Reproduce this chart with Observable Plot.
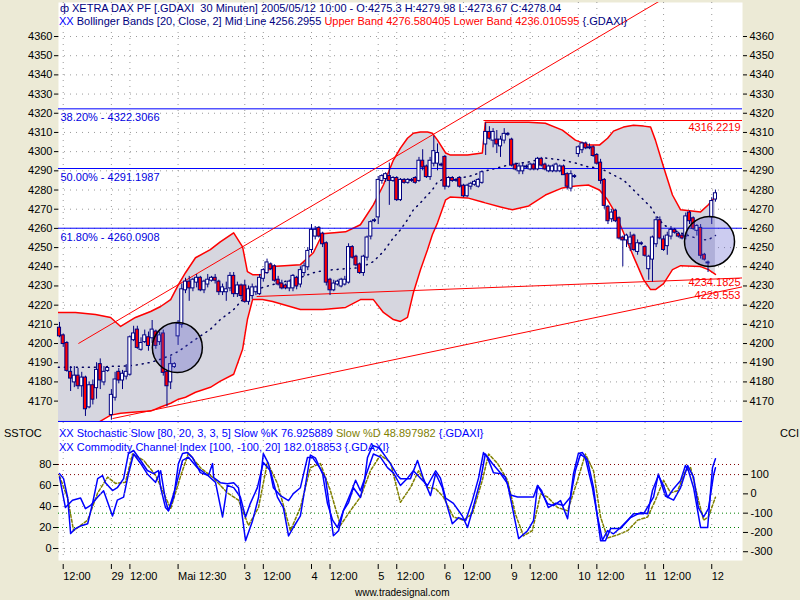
<!DOCTYPE html>
<html>
<head>
<meta charset="utf-8">
<script src="https://cdn.jsdelivr.net/npm/d3@7"></script>
<script src="https://cdn.jsdelivr.net/npm/@observablehq/plot@0.6"></script>
<style>
html,body{margin:0;padding:0;background:#ecead6;}
#wrap{position:relative;width:800px;height:600px;overflow:hidden;background:#ecead6;font-family:"Liberation Sans",Arial,sans-serif;font-size:11px;}
.layer{position:absolute;left:0;}
.t{position:absolute;white-space:pre;line-height:13px;font-size:11px;font-family:"Liberation Sans",Arial,sans-serif;}
</style>
</head>
<body>
<div id="wrap">
  <div id="price" class="layer" style="top:0"></div>
  <div id="stoch" class="layer" style="top:422px"></div>
  <div id="cci" class="layer" style="top:422px"></div>
  <div class="t" style="left:60px;top:2px;color:#000080">ф</div>
  <div class="t" style="left:72px;top:2px;color:#000080">XETRA DAX PF [.GDAXI  30 Minuten] 2005/05/12 10:00 - O:4275.3 H:4279.98 L:4273.67 C:4278.04</div>
  <div class="t" style="left:59px;top:15px"><span style="color:#0000ff">XX</span> <span style="color:#000080">Bollinger Bands [20, Close, 2] Mid Line 4256.2955 </span><span style="color:#ff0000">Upper Band 4276.580405 Lower Band 4236.010595 </span><span style="color:#000080">{.GDAXI}</span></div>
  <div class="t" style="left:59px;top:427px;color:#0000ff">XX Stochastic Slow [80, 20, 3, 3, 5] Slow %K 76.925889 <span style="color:#808000">Slow %D 48.897982</span> {.GDAXI}</div>
  <div class="t" style="left:59px;top:441px;color:#0000ff">XX Commodity Channel Index [100, -100, 20] 182.018853 {.GDAXI}</div>
  <div class="t" style="left:4px;top:427px;color:#000">SSTOC</div>
  <div class="t" style="left:780px;top:427px;color:#000">CCI</div>
  <div class="t" style="left:355px;top:586px;color:#000;font-size:10px">www.tradesignal.com</div>
</div>
<script>
// ---------- x axis (bar index) ----------
const tickIdx = [1,14,19,32,50,55,68,73,86,91,104,109,122,127,140,145,158,163,176];
const tickLabels = ["12:00","29","12:00","Mai 12:30","3","12:00","4","12:00","5","12:00","6","12:00","9","12:00","10","12:00","11","12:00","12"];

// ---------- candles (30 min) ----------
const opens = [
4208,4204,4200,4185,4180,4183,4178,4182,4167,4178,4177,4189,4180,4186,
4163,4172,4185,4181,4183,4184,4202,4207,4197,4201,4203,4203,4206,4201,4205,4185,4180,4188,
4204,4210,4228,4232,4229,4232,4234,4228,4231,4233,4234,4232,4227,4227,4229,4235,4226,4230,
4230,4222,4225,4227,4226,4234,4237,4241,4240,4233,4231,4230,4229,4229,4234,4231,4237,4240,
4249,4256,4260,4257,4252,4233,4228,4231,4230,4231,4232,4250,4245,4241,4237,4245,4256,4264,
4266,4285,4286,4287,4285,4286,4275,4285,4284,4285,4286,4285,4295,4292,4287,4294,4294,4293,
4297,4282,4286,4285,4286,4282,4277,4282,4283,4282,4284,4304,4310,4306,4306,4303,4306,4309,
4306,4293,4290,4290,4292,4291,4293,4291,4296,4293,4290,4290,4290,4290,4292,4288,4281,4287,
4299,4301,4304,4302,4302,4298,4294,4285,4271,4265,4269,4265,4255,4254,4252,4256,4248,4252,
4250,4239,4244,4252,4264,4254,4251,4256,4259,4257,4256,4256,4268,4265,4259,4260,4246,4242,
4266,4275.3];
const highs = [
4211,4205,4201,4188,4188,4187,4185,4183,4180,4181,4190,4192,4188,4187,
4176,4185,4187,4186,4189,4204,4209,4209,4203,4207,4206,4212,4207,4206,4207,4186,4193,4190,
4212,4231,4234,4235,4234,4236,4235,4233,4236,4235,4236,4233,4231,4232,4237,4237,4232,4231,
4233,4230,4231,4230,4236,4239,4244,4242,4241,4235,4233,4231,4233,4236,4235,4240,4242,4250,
4262,4261,4261,4258,4253,4234,4233,4233,4234,4235,4252,4251,4246,4242,4246,4256,4264,4265,
4287,4288,4289,4294,4287,4287,4286,4286,4286,4286,4287,4297,4301,4293,4297,4308,4304,4294,
4298,4287,4287,4286,4287,4283,4283,4284,4285,4286,4290,4315,4313,4312,4311,4308,4312,4310,
4307,4294,4294,4294,4293,4294,4294,4297,4297,4294,4293,4293,4294,4293,4293,4289,4290,4288,
4303,4305,4305,4304,4303,4299,4296,4286,4272,4270,4270,4266,4256,4257,4258,4257,4254,4253,
4251,4246,4256,4266,4266,4256,4258,4261,4260,4258,4257,4268,4269,4266,4262,4262,4247,4243,
4276,4279.98];
const lows = [
4203,4198,4185,4175,4177,4176,4172,4162,4166,4168,4171,4176,4178,4185,
4160,4170,4179,4176,4181,4183,4201,4197,4196,4200,4196,4200,4197,4199,4183,4167,4176,4187,
4199,4208,4226,4222,4227,4229,4227,4226,4229,4232,4231,4225,4225,4222,4227,4224,4224,4223,
4221,4220,4223,4225,4225,4232,4236,4238,4232,4230,4228,4228,4227,4227,4228,4229,4235,4238,
4247,4254,4255,4250,4230,4225,4227,4230,4229,4230,4231,4244,4240,4236,4235,4243,4254,4263,
4262,4283,4284,4272,4284,4274,4274,4283,4283,4284,4283,4284,4290,4286,4285,4292,4290,4292,
4280,4281,4284,4284,4281,4276,4276,4280,4282,4281,4283,4298,4306,4302,4299,4297,4304,4308,
4292,4290,4288,4288,4291,4290,4290,4290,4292,4290,4289,4289,4289,4289,4288,4280,4279,4286,
4297,4299,4301,4301,4297,4293,4283,4270,4262,4263,4263,4254,4240,4250,4248,4248,4246,4251,
4245,4233,4232,4250,4254,4248,4246,4254,4257,4255,4254,4254,4262,4259,4256,4244,4243,4237,
4262,4273.67];
const closes = [
4204,4200,4186,4182,4183,4178,4182,4166,4178,4171,4186,4181,4185,4187,
4173,4181,4181,4184,4185,4203,4205,4198,4200,4204,4199,4207,4199,4204,4185,4178,4189,4189,
4210,4228,4232,4229,4233,4234,4228,4232,4233,4234,4233,4227,4229,4228,4235,4226,4230,4225,
4222,4228,4229,4229,4234,4238,4242,4239,4233,4231,4229,4229,4232,4235,4230,4238,4240,4248,
4259,4259,4256,4252,4232,4228,4231,4232,4233,4233,4250,4245,4241,4237,4245,4255,4263,4264,
4285,4287,4288,4285,4286,4275,4285,4284,4285,4285,4284,4295,4292,4287,4295,4300,4299,4293,
4282,4286,4285,4285,4282,4277,4282,4283,4284,4285,4289,4310,4307,4310,4304,4306,4309,4309,
4293,4291,4292,4292,4292,4293,4291,4296,4293,4291,4292,4292,4293,4292,4288,4282,4288,4287,
4302,4304,4302,4302,4298,4294,4285,4272,4264,4268,4264,4255,4254,4256,4255,4249,4252,4252,
4246,4245,4255,4264,4255,4249,4256,4259,4258,4256,4255,4266,4264,4260,4261,4246,4244,4242,
4274,4278.04];

// ---------- Bollinger bands (read at sample bars) ----------
const bandIdx = [-0.3,4.3,9.7,13.8,16.5,20.5,24.6,27.3,30.0,32.1,34.0,36.7,40.7,43.4,47.0,49.4,50.7,52.1,54.8,57.5,65.0,68.5,71.0,77.2,81.2,84.7,87.4,90.1,92.0,93.9,95.5,97.4,99.3,100.6,102.0,104.2,105.5,110.1,114.1,114.9,119.0,122.2,126.6,131.1,135.7,139.2,142.7,145.7,147.9,149.5,152.2,154.9,157.6,159.5,160.8,163.0,165.4,167.6,173.0,175.1,177.0];
const bandUpper = [4216.2,4216.2,4215.1,4213.6,4208.9,4213.6,4216.7,4219.3,4222.9,4230.7,4236.9,4244.7,4248.9,4253.0,4257.7,4250.4,4237.5,4235.9,4235.9,4240.1,4241.1,4247.3,4257.2,4258.2,4261.9,4272.3,4282.6,4295.6,4301.8,4307.0,4309.6,4310.2,4310.2,4309.6,4306.0,4299.3,4298.2,4298.2,4299.3,4315.3,4315.3,4315.3,4315.3,4314.8,4311.2,4306.0,4303.4,4303.4,4307.0,4310.7,4312.8,4313.8,4313.3,4312.8,4306.0,4292.0,4277.4,4269.7,4268.6,4272.3,4276.58];
const bandLower = [4155.4,4155.4,4158.0,4162.7,4163.7,4164.3,4164.8,4166.9,4168.9,4171.0,4172.0,4174.6,4177.2,4180.4,4184.0,4197.0,4212.5,4222.9,4222.9,4221.9,4217.7,4217.7,4217.7,4218.8,4222.9,4222.9,4216.2,4212.5,4211.5,4213.6,4226.6,4238.5,4248.9,4256.7,4262.9,4274.9,4276.4,4275.9,4273.8,4273.3,4271.2,4269.7,4271.7,4277.4,4281.1,4282.1,4282.6,4280.0,4274.9,4269.7,4257.7,4245.3,4233.3,4228.1,4228.1,4231.2,4238.5,4240.6,4240.1,4238.5,4236.01];
const bandMid = [4187.6,4187.6,4187.6,4188.1,4188.1,4188.7,4190.2,4191.8,4193.9,4195.9,4198.5,4202.2,4207.4,4212.5,4217.7,4222.9,4225.0,4227.1,4229.2,4230.7,4234.4,4236.9,4238.0,4239.0,4239.5,4242.7,4247.9,4255.1,4259.3,4264.5,4269.7,4273.3,4277.4,4280.0,4284.2,4286.3,4286.3,4286.8,4289.4,4289.9,4292.0,4293.5,4294.6,4296.7,4295.6,4294.1,4292.0,4291.5,4289.4,4287.8,4285.2,4280.0,4274.9,4271.2,4267.1,4261.9,4259.3,4257.7,4254.1,4254.1,4256.30];

// ---------- Fibonacci retracements ----------
const fibNames = ["38.20%","50.00%","61.80%","100.00%"];
const fibLevels = [4322.3066,4291.1987,4260.0908,4159.39];

// ---------- drawn trend lines ----------
const trendStartIdx = [5.1,14.3,53.2,114.4];
const trendStartPrice = [4200.0,4160.9,4224.5,4316.2219];
const trendEndIdx = [162.2,184.3,184.3,184.3];
const trendEndPrice = [4378.8,4229.553,4234.1825,4316.2219];
const trendLabels = [4316.2219,4234.1825,4229.553];
const trendLabelShift = [7,5,9];

// ---------- highlighted circles ----------
const circleIdx = [31.8,175.4];
const circlePrice = [4197.9,4253.2];

// ---------- axis ticks ----------
const priceTicks = [4170,4180,4190,4200,4210,4220,4230,4240,4250,4260,4270,4280,4290,4300,4310,4320,4330,4340,4350,4360];
const stochTicks = [0,20,40,60,80];
const cciTicks = [100,0,-100,-200,-300];

// ---------- Stochastic slow %K, %D and CCI ----------
const kIdx = [0,1.6,3.5,5.7,7.0,8.4,10.3,11.9,14.3,15.6,17.3,18.6,20.0,21.9,23.7,25.9,27.3,28.6,29.4,31.3,33.2,34.8,37.2,39.9,42.1,44.0,45.3,47.0,48.8,50.2,51.5,53.4,55.0,56.9,58.8,60.4,61.8,63.1,65.0,67.7,69.1,71.0,72.3,73.7,75.0,76.6,78.5,79.9,81.2,83.1,84.7,86.6,88.5,90.1,92.0,93.9,95.5,97.4,99.3,101.5,102.8,104.2,106.3,108.7,110.1,111.4,113.6,114.9,116.8,119.0,120.3,121.7,123.6,127.9,129.0,130.1,131.9,133.8,136.0,137.9,139.2,140.6,141.9,143.8,145.2,146.5,147.9,149.5,151.4,153.3,154.9,157.6,160.3,161.6,163.5,165.7,167.6,169.5,171.1,172.4,173.8,175.1,176.5,177];
const kVal = [68,39,46,48,38,41,49,55,31,46,49,71,90,81,71,63,74,46,36,58,84,87,77,70,63,30,60,58,49,30,43,58,82,74,49,39,12,20,31,89,86,71,43,27,20,36,52,65,55,74,90,87,77,72,60,67,74,67,60,74,67,48,43,31,20,36,65,90,81,72,68,51,49,49,60,55,39,43,41,49,74,90,86,58,30,8,17,14,20,27,33,33,49,71,50,46,58,79,68,39,30,38,70,76.93];
const dIdx = [0,2.2,3.8,7.6,10.3,13.0,15.1,17.8,19.7,22.7,25.9,28.6,30.0,32.6,34.8,38.0,41.6,45.3,48.3,51.0,53.7,56.1,58.8,62.3,65.0,67.7,70.4,73.1,75.8,78.5,81.2,83.9,86.6,89.3,92.0,94.7,96.9,99.3,101.5,103.6,106.3,109.0,111.4,114.1,115.8,118.2,120.9,123.0,125.2,127.6,129.8,131.7,134.4,137.1,139.8,141.9,144.1,146.0,147.9,150.6,153.3,156.0,158.7,160.8,163.0,164.9,166.8,168.9,170.3,172.2,173.8,175.1,177];
const dVal = [69,48,17,27,53,68,62,63,90,84,70,49,38,68,91,77,67,53,46,22,39,82,62,17,39,77,81,55,22,36,49,74,89,82,44,58,74,58,57,49,30,27,33,65,90,81,65,33,12,17,52,49,39,36,65,90,74,30,10,13,17,27,30,46,65,53,55,74,77,49,27,30,48.9];
const cciIdx = [0,1.1,2.2,3.0,4.3,5.9,7.6,8.9,10.3,11.6,12.4,14.3,15.6,17.3,18.6,20.0,21.9,23.7,25.4,26.7,27.3,28.6,29.4,30.8,32.1,33.2,34.5,35.9,38.0,40.2,41.3,41.6,43.4,45.3,47.0,48.3,50.2,52.1,53.7,55.0,56.4,57.7,59.6,61.8,63.1,65.0,66.9,68.3,70.4,71.8,73.1,73.9,75.3,76.6,78.0,79.3,81.2,82.3,83.1,84.5,86.1,87.4,89.3,91.2,92.0,94.7,96.6,98.2,100.1,101.5,103.3,104.2,106.0,107.7,109.6,111.4,113.1,114.4,115.5,117.1,119.0,120.9,123.9,126.3,127.9,129.0,129.8,131.7,133.3,135.2,137.1,138.7,140.0,141.1,142.5,144.1,146.0,147.3,148.7,151.4,154.1,156.8,158.7,160.0,161.6,163.0,164.1,165.7,167.6,168.9,169.7,171.1,173.0,174.9,176.2,177];
const cciVal = [105,79,-19,-206,-180,-165,-155,-51,79,95,58,17,32,79,209,225,173,121,105,121,32,-71,-87,-19,157,209,214,188,110,95,157,84,58,53,58,32,-243,-139,-19,209,157,32,-9,-35,1,32,188,188,131,79,-103,-217,-191,-87,-45,32,-19,69,188,251,240,209,157,95,79,79,173,79,-9,105,32,-35,-155,-123,-139,-35,84,214,188,110,105,53,-232,-191,-139,43,17,-51,-61,-35,-129,105,209,214,173,32,-243,-243,-180,-180,-123,-97,-103,17,95,43,-19,27,69,147,121,32,-175,-175,136,182.02];

// ---------- build tables ----------
const candles = opens.map((o, i) => ({i, o, h: highs[i], l: lows[i], c: closes[i]}));
const bands = bandIdx.map((i, k) => ({i, u: bandUpper[k], l: bandLower[k], m: bandMid[k]}));
const trends = trendStartIdx.map((x1, k) => ({x1, y1: trendStartPrice[k], x2: trendEndIdx[k], y2: trendEndPrice[k]}));
const fibs = fibLevels.map((v, k) => ({v, name: fibNames[k]}));
const circles = circleIdx.map((i, k) => ({i, p: circlePrice[k]}));
const kPts = kIdx.map((x, k) => ({x, y: kVal[k]}));
const dPts = dIdx.map((x, k) => ({x, y: dVal[k]}));
const cciPts = cciIdx.map((x, k) => ({x, y: cciVal[k]}));
const labelOf = new Map(tickIdx.map((d, k) => [d, tickLabels[k]]));

const xDomain = [-0.27, 184.3];
const svgStyle = {background: "transparent", overflow: "visible", fontFamily: "'Liberation Sans', Arial, sans-serif", fontSize: "11px", color: "black"};
const gridStroke = "#9a9a9a";
const NAVY = "#000080";

const price = Plot.plot({
  width: 800, height: 424,
  marginLeft: 58, marginRight: 58, marginTop: 2, marginBottom: 2,
  x: {domain: xDomain, axis: null},
  y: {domain: [4158.85, 4377.72]},
  style: svgStyle,
  marks: [
    Plot.frame({fill: "white", stroke: null}),
    Plot.ruleY(priceTicks, {stroke: gridStroke, strokeDasharray: "1,5"}),
    Plot.ruleX(tickIdx, {stroke: gridStroke, strokeDasharray: "1,5"}),
    Plot.areaY(bands, {x: "i", y1: "l", y2: "u", fill: "#d6d6df", clip: true}),
    Plot.line(bands, {x: "i", y: "u", stroke: "#ff0000", clip: true}),
    Plot.line(bands, {x: "i", y: "l", stroke: "#ff0000", clip: true}),
    Plot.line(bands, {x: "i", y: "m", stroke: "#000060", strokeDasharray: "1,5"}),
    Plot.ruleY(fibs, {y: "v", stroke: "#0000ff"}),
    Plot.link(trends, {x1: "x1", y1: "y1", x2: "x2", y2: "y2", stroke: "#ff0000", clip: true}),
    Plot.ruleX(candles, {x: "i", y1: "l", y2: "h", stroke: NAVY}),
    Plot.rect(candles.filter(d => d.c >= d.o), {x1: d => d.i - 0.42, x2: d => d.i + 0.42, y1: d => d.o, y2: d => d.c, fill: "white", stroke: NAVY, insetTop: -0.5, insetBottom: -0.5}),
    Plot.rect(candles.filter(d => d.c < d.o), {x1: d => d.i - 0.42, x2: d => d.i + 0.42, y1: d => d.c, y2: d => d.o, fill: "#ff0000", stroke: NAVY, insetTop: -0.5, insetBottom: -0.5}),
    Plot.dot(circles, {x: "i", y: "p", r: 25, fill: "#5555cc", fillOpacity: 0.3, stroke: "black"}),
    Plot.text(fibs.slice(0, 3), {y: "v", text: d => d.name + " - " + d.v, frameAnchor: "left", textAnchor: "start", dx: 2, dy: 9, fill: "#0000e0", fontSize: 11}),
    ...trendLabels.map((v, k) => Plot.text([v], {y: d => d, text: d => String(d), frameAnchor: "right", textAnchor: "end", dx: -2, dy: trendLabelShift[k], fill: "#ff0000", fontSize: 11})),
    Plot.axisY(priceTicks, {anchor: "left", tickSize: 4, tickPadding: 2, tickFormat: "d", label: null, fontSize: 11}),
    Plot.axisY(priceTicks, {anchor: "right", tickSize: 4, tickPadding: 3, tickFormat: "d", label: null, fontSize: 11})
  ]
});
document.getElementById("price").appendChild(price);

const stoch = Plot.plot({
  width: 800, height: 178,
  marginLeft: 58, marginRight: 58, marginTop: 0, marginBottom: 40,
  x: {domain: xDomain},
  y: {domain: [-11.43, 120]},
  style: svgStyle,
  marks: [
    Plot.frame({fill: "white", stroke: null}),
    Plot.ruleX(tickIdx, {stroke: gridStroke, strokeDasharray: "1,5"}),
    Plot.ruleY([0, 40, 60], {stroke: gridStroke, strokeDasharray: "1,5"}),
    Plot.ruleY([80], {stroke: "#800000", strokeDasharray: "1,3"}),
    Plot.ruleY([20], {stroke: "#008000", strokeDasharray: "1,3"}),
    Plot.line(dPts, {x: "x", y: "y", stroke: "#808000", strokeDasharray: "3,2"}),
    Plot.line(kPts, {x: "x", y: "y", stroke: "#0000ff"}),
    Plot.axisY(stochTicks, {anchor: "left", tickSize: 5, tickPadding: 2, tickFormat: "d", label: null, fontSize: 11}),
    Plot.axisX(tickIdx, {anchor: "bottom", tickSize: 5, tickPadding: 3, dy: 4, tickFormat: d => labelOf.get(d), textAnchor: "start", label: null, fontSize: 11})
  ]
});
document.getElementById("stoch").appendChild(stoch);

const cci = Plot.plot({
  width: 800, height: 178,
  marginLeft: 58, marginRight: 58, marginTop: 0, marginBottom: 40,
  x: {domain: xDomain, axis: null},
  y: {domain: [-345.5, 370.1]},
  style: svgStyle,
  marks: [
    Plot.ruleY([0, -200, -300], {stroke: gridStroke, strokeDasharray: "1,5"}),
    Plot.ruleY([100], {stroke: "#800000", strokeDasharray: "1,3"}),
    Plot.ruleY([-100], {stroke: "#008000", strokeDasharray: "1,3"}),
    Plot.line(cciPts, {x: "x", y: "y", stroke: "#0000ff"}),
    Plot.axisY(cciTicks, {anchor: "right", tickSize: 5, tickPadding: 3, tickFormat: d => String(d), label: null, fontSize: 11})
  ]
});
document.getElementById("cci").appendChild(cci);
</script>
</body>
</html>
